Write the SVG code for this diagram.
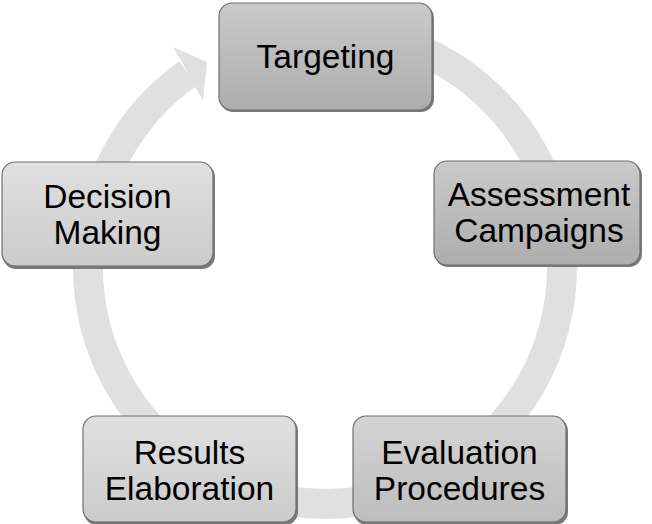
<svg xmlns="http://www.w3.org/2000/svg" width="652" height="524" viewBox="0 0 652 524">
<defs>
<linearGradient id="gDark" x1="0" y1="0" x2="0" y2="1"><stop offset="0" stop-color="#cacaca"/><stop offset="1" stop-color="#adadad"/></linearGradient>
<linearGradient id="gMid" x1="0" y1="0" x2="0" y2="1"><stop offset="0" stop-color="#d4d4d4"/><stop offset="1" stop-color="#bdbdbd"/></linearGradient>
<linearGradient id="gLight" x1="0" y1="0" x2="0" y2="1"><stop offset="0" stop-color="#e0e0e0"/><stop offset="1" stop-color="#cbcbcb"/></linearGradient>
</defs>
<style>
.box{stroke:#6f6f6f;stroke-width:1.2}
.sh{fill:#7a7a7a}
.t{font-family:"Liberation Sans",Arial,sans-serif;font-size:33.5px;fill:#000;text-anchor:middle}
.ring{fill:none;stroke:#e0e0e0;stroke-width:30}
</style>
<rect width="652" height="524" fill="#fff"/>
<g id="connectors">
<path class="ring" d="M304.3,30.9 A237,237 0 1 1 188.0,73.6"/>
<polygon points="173,47 207,62 203,100 195,87 182,62" fill="#e0e0e0"/>
</g>
<g id="n-targeting">
<rect class="sh" x="220" y="5" width="214" height="107" rx="13"/>
<rect class="box" x="219" y="3" width="213" height="107" rx="13" fill="url(#gDark)"/>
<text class="t" x="325.5" y="68">Targeting</text>
</g>
<g id="n-assessment">
<rect class="sh" x="435" y="163" width="207" height="104" rx="13"/>
<rect class="box" x="434" y="161" width="206" height="104" rx="13" fill="url(#gDark)"/>
<text class="t" x="539" y="206">Assessment</text>
<text class="t" x="539" y="242">Campaigns</text>
</g>
<g id="n-evaluation">
<rect class="sh" x="354" y="418" width="214" height="107" rx="13"/>
<rect class="box" x="353" y="416" width="213" height="106" rx="13" fill="url(#gMid)"/>
<text class="t" x="459.5" y="464">Evaluation</text>
<text class="t" x="459.5" y="500">Procedures</text>
</g>
<g id="n-results">
<rect class="sh" x="84" y="418" width="214" height="107" rx="13"/>
<rect class="box" x="83" y="416" width="213" height="106" rx="13" fill="url(#gLight)"/>
<text class="t" x="189.5" y="464">Results</text>
<text class="t" x="189.5" y="500">Elaboration</text>
</g>
<g id="n-decision">
<rect class="sh" x="3" y="164" width="212" height="105" rx="13"/>
<rect class="box" x="2" y="162" width="211" height="104" rx="13" fill="url(#gLight)"/>
<text class="t" x="107.5" y="208">Decision</text>
<text class="t" x="107.5" y="244">Making</text>
</g>
</svg>
